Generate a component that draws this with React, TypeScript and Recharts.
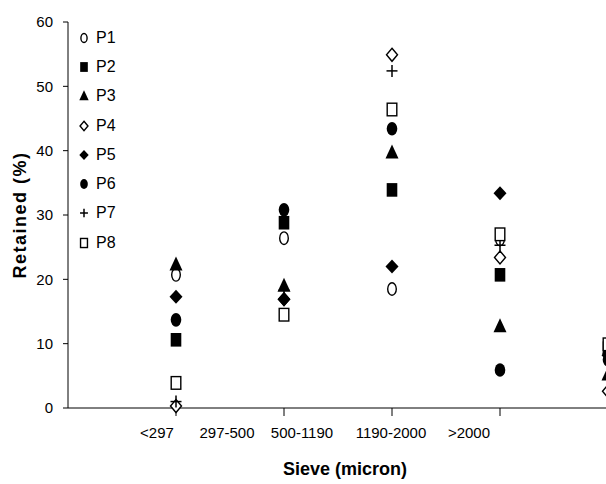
import { ScatterChart, Scatter, XAxis, YAxis, Legend } from 'recharts';

// sieve fractions and the % retained for each sample
const CATEGORIES = ['<297', '297-500', '500-1190', '1190-2000', '>2000'];
const Y_TICKS = [0, 10, 20, 30, 40, 50, 60];

const P1 = [20.7, 26.4, 18.5, 26.2, 9.5];
const P2 = [10.6, 28.8, 33.9, 20.7, 9.3];
const P3 = [22.3, 19.0, 39.7, 12.7, 5.2];
const P4 = [0.3, 16.9, 54.9, 23.4, 2.6];
const P5 = [17.3, 16.9, 22.0, 33.4, 8.2];
const P6 = [13.7, 30.8, 43.4, 5.9, 7.5];
const P7 = [1.0, 18.3, 52.4, 25.3, 8.5];
const P8 = [3.9, 14.5, 46.4, 27.0, 9.9];

const SERIES = [
  { name: 'P1', values: P1, marker: 'circleOpen' },
  { name: 'P2', values: P2, marker: 'square' },
  { name: 'P3', values: P3, marker: 'triangle' },
  { name: 'P4', values: P4, marker: 'diamondOpen' },
  { name: 'P5', values: P5, marker: 'diamond' },
  { name: 'P6', values: P6, marker: 'circle' },
  { name: 'P7', values: P7, marker: 'plus' },
  { name: 'P8', values: P8, marker: 'squareOpen' },
];

// Excel put the category text left of each tick mark
const LABEL_DX = [-19, -57, -90, -109, -139];

const FONT = '"Liberation Sans", Arial, sans-serif';

const Marker = ({ kind, cx, cy, s = 1 }: { kind: string; cx: number; cy: number; s?: number }) => {
  const open = { fill: '#fff', stroke: '#000', strokeWidth: 1.4 };
  switch (kind) {
    case 'circleOpen':
      return <ellipse cx={cx} cy={cy} rx={4.3 * s} ry={6.3 * s} {...open} />;
    case 'circle':
      return <ellipse cx={cx} cy={cy} rx={5.3 * s} ry={6.8 * s} fill="#000" />;
    case 'square':
      return <rect x={cx - 5.3 * s} y={cy - 6.8 * s} width={10.6 * s} height={13.6 * s} fill="#000" />;
    case 'squareOpen':
      return <rect x={cx - 4.8 * s} y={cy - 6.3 * s} width={9.6 * s} height={12.6 * s} {...open} />;
    case 'triangle':
      return (
        <polygon
          points={`${cx},${cy - 8 * s} ${cx + 6.5 * s},${cy + 6 * s} ${cx - 6.5 * s},${cy + 6 * s}`}
          fill="#000"
        />
      );
    case 'diamond':
      return (
        <polygon
          points={`${cx},${cy - 7 * s} ${cx + 6.5 * s},${cy} ${cx},${cy + 7 * s} ${cx - 6.5 * s},${cy}`}
          fill="#000"
        />
      );
    case 'diamondOpen':
      return (
        <polygon
          points={`${cx},${cy - 6.5 * s} ${cx + 5.5 * s},${cy} ${cx},${cy + 6.5 * s} ${cx - 5.5 * s},${cy}`}
          {...open}
        />
      );
    case 'plus':
      return (
        <g stroke="#000" strokeWidth={1.5}>
          <line x1={cx - 5.5 * s} y1={cy} x2={cx + 5.5 * s} y2={cy} />
          <line x1={cx} y1={cy - 6 * s} x2={cx} y2={cy + 6 * s} />
        </g>
      );
    default:
      return null;
  }
};

const XTick = ({ x, y, payload, index }: any) => {
  const label = CATEGORIES[payload.value - 1];
  if (!label) return null;
  return (
    <text x={x + (LABEL_DX[index] ?? 0)} y={y} dy={20} textAnchor="middle" fill="#000" fontSize={15} fontFamily={FONT}>
      {label}
    </text>
  );
};

const LegendBox = () => (
  <div style={{ fontFamily: FONT, fontSize: 16, color: '#000' }}>
    {SERIES.map((s) => (
      <div key={s.name} style={{ height: 29.3, display: 'flex', alignItems: 'center' }}>
        <svg width={14} height={14} style={{ display: 'block' }}>
          <Marker kind={s.marker} cx={7} cy={7} s={0.72} />
        </svg>
        <span style={{ marginLeft: 5 }}>{s.name}</span>
      </div>
    ))}
  </div>
);

export default function App() {
  return (
    <div style={{ position: 'absolute', left: 0, top: 0, width: 606, height: 484, overflow: 'hidden', background: '#fff' }}>
      <ScatterChart width={612} height={484} margin={{ top: 22, right: 4, bottom: 0, left: 0 }} style={{ fontFamily: FONT }}>
        <XAxis
          type="number"
          dataKey="x"
          domain={[0, 5]}
          ticks={[1, 2, 3, 4, 5]}
          height={76}
          tickSize={8}
          axisLine={{ stroke: '#000' }}
          tickLine={{ stroke: '#000' }}
          tick={<XTick />}
          interval={0}
          label={({ viewBox }: any) => (
            <text x={viewBox.x + viewBox.width / 2 + 7} y={475} textAnchor="middle" fontSize={18} fontWeight="bold" fontFamily={FONT} fill="#000">
              Sieve (micron)
            </text>
          )}
        />
        <YAxis
          type="number"
          dataKey="y"
          domain={[0, 60]}
          ticks={Y_TICKS}
          width={68}
          tickSize={5}
          tickMargin={10}
          axisLine={{ stroke: '#000' }}
          tickLine={{ stroke: '#000' }}
          tick={{ fill: '#000', fontSize: 15, fontFamily: FONT }}
          label={({ viewBox }: any) => {
            const cx = 20;
            const cy = viewBox.y + viewBox.height / 2;
            return (
              <text
                x={cx}
                y={cy}
                dy={6}
                transform={`rotate(-90, ${cx}, ${cy})`}
                textAnchor="middle"
                fontSize={18}
                fontWeight="bold"
                letterSpacing={1.5}
                fontFamily={FONT}
                fill="#000"
              >
                Retained (%)
              </text>
            );
          }}
        />
        <Legend
          layout="vertical"
          align="center"
          verticalAlign="middle"
          wrapperStyle={{ left: 77, top: 23, width: 'auto' }}
          content={() => <LegendBox />}
        />
        {SERIES.map((s) => (
          <Scatter
            key={s.name}
            name={s.name}
            data={s.values.map((v, i) => ({ x: i + 1, y: v }))}
            isAnimationActive={false}
            shape={(p: any) => <Marker kind={s.marker} cx={p.cx} cy={p.cy} />}
          />
        ))}
      </ScatterChart>
    </div>
  );
}
